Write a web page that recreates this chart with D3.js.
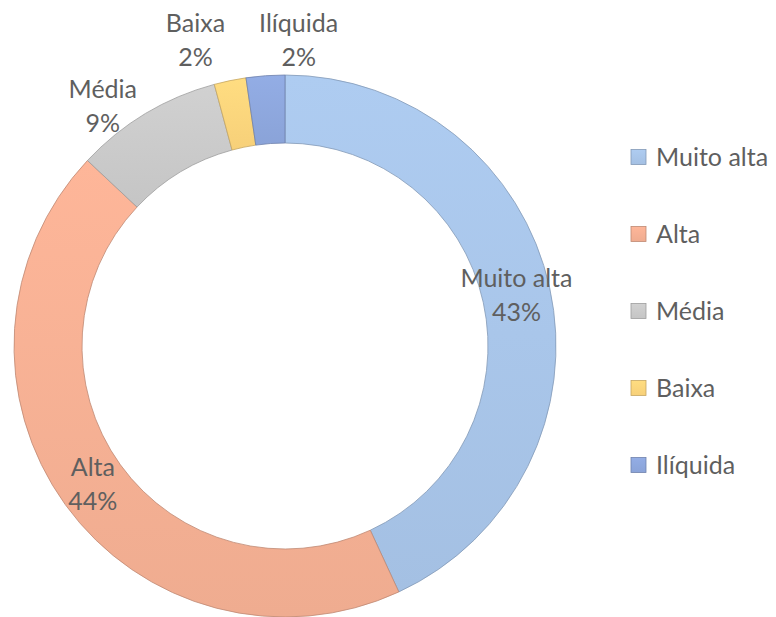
<!DOCTYPE html>
<html>
<head>
<meta charset="utf-8">
<script src="https://cdn.jsdelivr.net/npm/d3@7"></script>
<style>
  body { margin: 0; background: #fff; }
  text { font-family: Lato, "Noto Sans", sans-serif; fill: #5f5f5f; }
</style>
</head>
<body>
<script>
// Chart data
var categories = ["Muito alta", "Alta", "Média", "Baixa", "Ilíquida"];
var shares = [43.1, 43.9, 8.8, 1.9, 2.3];
var colors = ["#a8c5e9", "#f5b094", "#cacaca", "#fdd57c", "#8ea7dd"];

var svgWidth = 776;
var svgHeight = 617;

// Donut geometry
var cx = 285;
var cy = 346;
var outerR = 271;
var innerR = 203;
var fontSize = 25;
var lineGap = 34;

var svg = d3.select("body")
  .append("svg")
  .attr("width", svgWidth)
  .attr("height", svgHeight);

// Light-to-dark vertical gradients like the office style
var defs = svg.append("defs");
colors.forEach(function(c, i) {
  var g = defs.append("linearGradient")
    .attr("id", "grad" + i)
    .attr("x1", 0).attr("y1", 0)
    .attr("x2", 0).attr("y2", 1);
  g.append("stop").attr("offset", "0%").attr("stop-color", d3.color(c).brighter(0.1));
  g.append("stop").attr("offset", "100%").attr("stop-color", d3.color(c).darker(0.07));
});

var pie = d3.pie().sort(null).value(d => d);
var arcs = pie(shares);

var arc = d3.arc().innerRadius(innerR).outerRadius(outerR);

var chartGroup = svg.append("g")
  .attr("transform", `translate(${cx}, ${cy})`);

chartGroup.selectAll("path")
  .data(arcs)
  .enter()
  .append("path")
  .attr("d", arc)
  .attr("fill", (d, i) => `url(#grad${i})`)
  .attr("stroke", (d, i) => d3.color(colors[i]).darker(0.7))
  .attr("stroke-width", 0.8);

// Data labels: big slices inside the ring, small ones just outside
var labels = arcs.map(function(d, i) {
  var mid = (d.startAngle + d.endAngle) / 2;
  var pct = Math.round(d.data) + "%";
  var lab = { name: categories[i], pct: pct, mid: mid, inside: d.data > 20 };
  if (lab.inside) {
    var c = arc.centroid(d);
    lab.x = c[0];
    lab.y = c[1];
  } else {
    lab.px = Math.sin(mid) * (outerR + 5);
    lab.py = -Math.cos(mid) * (outerR + 5);
    lab.above = Math.abs(Math.sin(mid)) < 0.35;
  }
  return lab;
});

var labelGroup = chartGroup.append("g");

var labelNodes = labelGroup.selectAll("g")
  .data(labels)
  .enter()
  .append("g");

labelNodes.append("text")
  .attr("class", "l1")
  .attr("text-anchor", "middle")
  .attr("font-size", fontSize)
  .text(d => d.name);

labelNodes.append("text")
  .attr("class", "l2")
  .attr("text-anchor", "middle")
  .attr("font-size", fontSize)
  .text(d => d.pct);

// measure label boxes
labelNodes.each(function(d) {
  var w1 = d3.select(this).select(".l1").node().getComputedTextLength();
  var w2 = d3.select(this).select(".l2").node().getComputedTextLength();
  d.w = Math.max(w1, w2);
});

labels.forEach(function(d) {
  if (d.inside) return;
  if (d.above) {
    d.x = d.px;
    d.y = d.py - 5 - lineGap / 2 - fontSize * 0.35;
  } else {
    d.x = d.px + (Math.sin(d.mid) < 0 ? -1 : 1) * (6 + d.w / 2);
    d.y = d.py - 3;
  }
});

// push apart the labels sitting above the ring
var tops = labels.filter(d => !d.inside && d.above).sort((a, b) => a.x - b.x);
for (var k = 1; k < tops.length; k++) {
  var a = tops[k - 1], b = tops[k];
  var need = a.w / 2 + b.w / 2 + 34;
  var gap = b.x - a.x;
  if (gap < need) {
    var shift = (need - gap) / 2;
    a.x -= shift;
    b.x += shift;
  }
  var yy = Math.min(a.y, b.y);
  a.y = yy;
  b.y = yy;
}

labelNodes.select(".l1")
  .attr("x", d => d.x)
  .attr("y", d => d.y - lineGap / 2)
  .attr("dy", "0.35em");

labelNodes.select(".l2")
  .attr("x", d => d.x)
  .attr("y", d => d.y + lineGap / 2)
  .attr("dy", "0.35em");

// Legend on the right
var legendScale = d3.scalePoint()
  .domain(categories)
  .range([157, 465]);

var legend = svg.append("g")
  .selectAll("g")
  .data(categories)
  .enter()
  .append("g")
  .attr("transform", d => `translate(631, ${legendScale(d)})`);

legend.append("rect")
  .attr("x", 0)
  .attr("y", -7.5)
  .attr("width", 15)
  .attr("height", 15)
  .attr("fill", (d, i) => `url(#grad${i})`)
  .attr("stroke", (d, i) => d3.color(colors[i]).darker(0.7))
  .attr("stroke-width", 0.8);

legend.append("text")
  .attr("x", 25)
  .attr("y", 0)
  .attr("dy", "0.35em")
  .attr("font-size", fontSize)
  .text(d => d);
</script>
</body>
</html>
